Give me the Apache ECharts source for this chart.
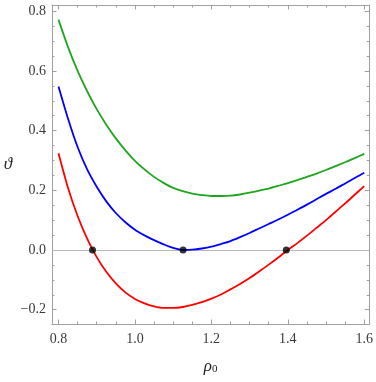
<!DOCTYPE html>
<html><head><meta charset="utf-8">
<script src="https://cdn.jsdelivr.net/npm/echarts@6/dist/echarts.min.js"></script>
<style>html,body{margin:0;padding:0;background:#fff}#c{width:376px;height:382px}</style>
</head><body><div id="c"></div>
<script>
// ---- data ----
const rho = [0.800,0.825,0.850,0.875,0.900,0.925,0.950,0.975,1.000,1.025,1.050,1.075,1.100,1.125,1.150,1.175,1.200,1.225,1.250,1.275,1.300,1.325,1.350,1.375,1.400,1.425,1.450,1.475,1.500,1.525,1.550,1.575,1.600];
const thetaGreen = [0.772,0.680,0.600,0.532,0.472,0.420,0.374,0.334,0.299,0.270,0.245,0.225,0.208,0.197,0.189,0.184,0.181,0.181,0.182,0.186,0.192,0.199,0.206,0.215,0.224,0.234,0.245,0.256,0.268,0.281,0.294,0.308,0.322];
const thetaBlue  = [0.548,0.440,0.345,0.270,0.212,0.163,0.124,0.093,0.068,0.049,0.033,0.019,0.007,0.000,0.001,0.005,0.011,0.020,0.030,0.043,0.057,0.072,0.087,0.102,0.118,0.135,0.152,0.170,0.188,0.205,0.223,0.241,0.259];
const thetaRed   = [0.324,0.208,0.114,0.038,-0.024,-0.073,-0.112,-0.142,-0.164,-0.179,-0.189,-0.194,-0.194,-0.191,-0.184,-0.175,-0.163,-0.149,-0.132,-0.114,-0.094,-0.072,-0.049,-0.025,0.000,0.023,0.048,0.074,0.100,0.128,0.156,0.185,0.214];
const zeroRho = [0.889,1.126,1.396];
const zeroTheta = [0,0,0];
const xMajorTicks = [0.8,1.0,1.2,1.4,1.6];
const xMinorTicks = [0.8,0.85,0.9,0.95,1.0,1.05,1.1,1.15,1.2,1.25,1.3,1.35,1.4,1.45,1.5,1.55,1.6];
const yMajorTicks = [-0.2,0,0.2,0.4,0.6,0.8];
const yMinorTicks = [-0.2,-0.15,-0.1,-0.05,0,0.05,0.1,0.15,0.2,0.25,0.3,0.35,0.4,0.45,0.5,0.55,0.6,0.65,0.7,0.75,0.8];
const xRange = [0.783, 1.613];
const yRange = [-0.248, 0.821];

const frameColor = '#a0a0a0';
const labelColor = '#3a3a3a';
const serif = 'Liberation Serif';

function fmt(v){ return (v < 0 ? '\u2212' : '') + Math.abs(v).toFixed(1); }

function mkX(pos, ticks, len, showLine, showLabel, extra){
  return Object.assign({
    type:'value', position:pos, min:xRange[0], max:xRange[1],
    axisLine:{show:showLine, onZero:false, lineStyle:{color:frameColor, width:1}},
    axisTick:{show:true, inside:true, length:len, customValues:ticks, lineStyle:{color:frameColor, width:1}},
    axisLabel:{show:showLabel, customValues:ticks, formatter:fmt, color:labelColor, fontFamily:serif, fontSize:14, margin:8},
    splitLine:{show:false}
  }, extra||{});
}
function mkY(pos, ticks, len, showLine, showLabel, extra){
  return Object.assign({
    type:'value', position:pos, min:yRange[0], max:yRange[1],
    axisLine:{show:showLine, onZero:false, lineStyle:{color:frameColor, width:1}},
    axisTick:{show:true, inside:true, length:len, customValues:ticks, lineStyle:{color:frameColor, width:1}},
    axisLabel:{show:showLabel, customValues:ticks, formatter:fmt, color:labelColor, fontFamily:serif, fontSize:14, margin:6},
    splitLine:{show:false}
  }, extra||{});
}

const chart = echarts.init(document.getElementById('c'), null, {renderer:'canvas'});
const pairs = arr => rho.map((x,i)=>[x, arr[i]]);
chart.setOption({
  animation:false,
  backgroundColor:'#fff',
  grid:{left:52, right:6, top:5, bottom:58, containLabel:false},
  xAxis:[
    mkX('bottom', xMajorTicks, 4.5, true, true, {
      name:'{a|ρ}{b|0}', nameLocation:'middle', nameGap:34,
      nameTextStyle:{rich:{
        a:{fontFamily:serif, fontStyle:'italic', fontSize:17, color:'#222', verticalAlign:'bottom'},
        b:{fontFamily:serif, fontSize:11, color:'#222', verticalAlign:'bottom'}
      }}
    }),
    mkX('bottom', xMinorTicks, 2.5, false, false),
    mkX('top', xMajorTicks, 4.5, true, false),
    mkX('top', xMinorTicks, 2.5, false, false)
  ],
  yAxis:[
    mkY('left', yMajorTicks, 4.5, true, true, {
      name:'ϑ', nameLocation:'middle', nameRotate:0, nameGap:44,
      nameTextStyle:{fontFamily:serif, fontStyle:'italic', fontSize:17, color:'#222', align:'center', verticalAlign:'middle'}
    }),
    mkY('left', yMinorTicks, 2.5, false, false),
    mkY('right', yMajorTicks, 4.5, true, false),
    mkY('right', yMinorTicks, 2.5, false, false)
  ],
  series:[
    {type:'line', data:pairs(thetaGreen), smooth:0.3, showSymbol:false, lineStyle:{color:'#1fa51f', width:1.8}, z:3,
     markLine:{silent:true, symbol:'none', label:{show:false}, lineStyle:{color:'#b8b8b8', width:1, type:'solid'}, data:[{yAxis:0}], z:1}},
    {type:'line', data:pairs(thetaBlue), smooth:0.3, showSymbol:false, lineStyle:{color:'#0000ff', width:1.8}, z:3},
    {type:'line', data:pairs(thetaRed), smooth:0.3, showSymbol:false, lineStyle:{color:'#ff0000', width:1.8}, z:3},
    {type:'scatter', data:zeroRho.map((x,i)=>[x, zeroTheta[i]]), symbol:'circle', symbolSize:7, itemStyle:{color:'#000'}, z:5}
  ]
});
</script></body></html>
